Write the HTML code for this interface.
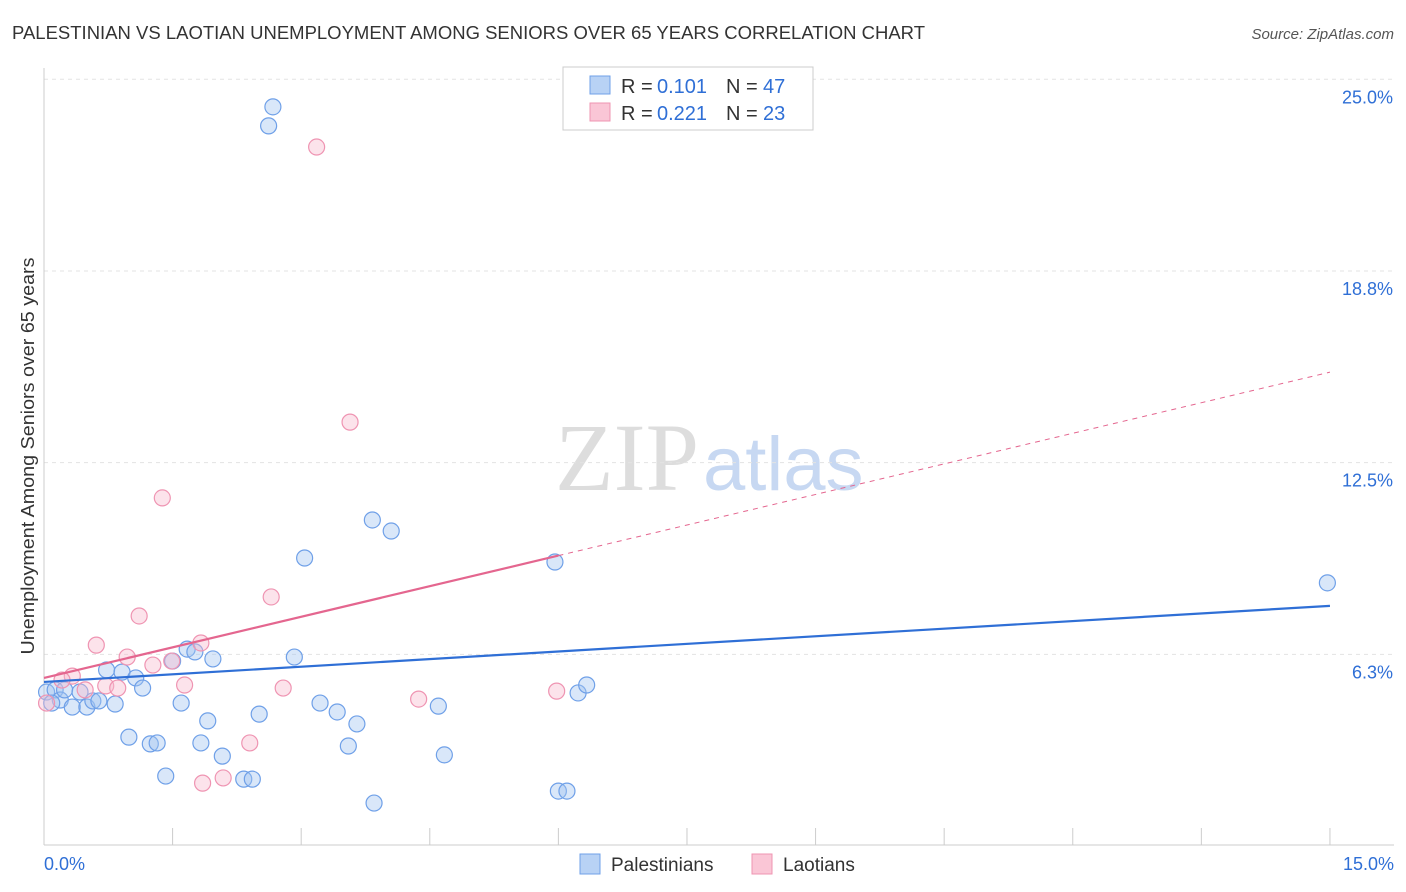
<!DOCTYPE html>
<html><head><meta charset="utf-8"><style>
body{margin:0;background:#fff;font-family:"Liberation Sans",sans-serif;}
svg{display:block}
</style></head><body>
<svg width="1406" height="892" xmlns="http://www.w3.org/2000/svg" id="chart">
<text x="12" y="39" font-size="18.5" fill="#333" textLength="913" lengthAdjust="spacingAndGlyphs">PALESTINIAN VS LAOTIAN UNEMPLOYMENT AMONG SENIORS OVER 65 YEARS CORRELATION CHART</text>
<text x="1394" y="39" font-size="15" fill="#555" text-anchor="end" font-style="italic">Source: ZipAtlas.com</text>
<text x="555" y="490" font-size="96" fill="#ddd" font-family="Liberation Serif,serif">ZIP<tspan fill="#c7d8f2" font-family="Liberation Sans,sans-serif" font-size="76" dx="4">atlas</tspan></text>
<text transform="translate(34,456) rotate(-90)" font-size="18" fill="#333" text-anchor="middle" textLength="397" lengthAdjust="spacingAndGlyphs">Unemployment Among Seniors over 65 years</text>
<g id="grid"></g>
<g id="marks"></g>
<g>
<rect x="563" y="67" width="250" height="63" fill="#fff" stroke="#ccc"/>
<rect x="590" y="76" width="20" height="18" fill="#b8d2f5" stroke="#6fa0e8"/>
<rect x="590" y="103" width="20" height="18" fill="#fac6d6" stroke="#ef94b2"/>
<text x="621" y="93" font-size="20" fill="#333">R =</text>
<text x="657" y="93" font-size="20" fill="#2f6fd6">0.101</text>
<text x="726" y="93" font-size="20" fill="#333">N =</text>
<text x="763" y="93" font-size="20" fill="#2f6fd6">47</text>
<text x="621" y="120" font-size="20" fill="#333">R =</text>
<text x="657" y="120" font-size="20" fill="#2f6fd6">0.221</text>
<text x="726" y="120" font-size="20" fill="#333">N =</text>
<text x="763" y="120" font-size="20" fill="#2f6fd6">23</text>
</g>
<g>
<rect x="580" y="854" width="20" height="20" fill="#b8d2f5" stroke="#6fa0e8"/>
<text x="611" y="871" font-size="19" fill="#333">Palestinians</text>
<rect x="752" y="854" width="20" height="20" fill="#fac6d6" stroke="#ef94b2"/>
<text x="783" y="871" font-size="19" fill="#333">Laotians</text>
</g>
</svg>
<script>
const yTicks=[25,18.8,12.5,6.3];
const yTickVals=[25,18.75,12.5,6.25];
const blueX=[2.67,2.62,3.04,3.83,4.05,5.96,14.97,0.03,0.13,0.19,0.09,0.24,0.33,0.42,0.50,0.57,0.64,0.73,0.83,0.91,1.07,1.15,0.99,1.24,1.32,1.42,1.50,1.60,1.67,1.76,1.83,1.91,1.97,2.08,2.33,2.43,2.51,2.92,3.22,3.42,3.55,3.65,3.85,4.60,4.67,6.00,6.10,6.23,6.33];
const blueY=[24.10,23.48,9.39,10.63,10.27,9.26,8.58,5.02,5.09,4.76,4.66,5.09,4.53,5.02,4.53,4.73,4.73,5.74,4.63,5.67,5.48,5.15,3.55,3.33,3.36,2.28,6.03,4.66,6.42,6.33,3.36,4.08,6.10,2.93,2.18,2.18,4.30,6.16,4.66,4.37,3.26,3.98,1.40,4.56,2.97,1.79,1.79,4.99,5.25];
const pinkX=[3.18,3.57,1.38,2.65,1.11,0.61,0.97,1.27,1.49,1.83,0.72,0.86,0.33,0.21,0.03,1.64,2.79,4.37,5.98,2.40,1.85,2.09,0.48];
const pinkY=[22.79,13.82,11.35,8.12,7.50,6.55,6.16,5.90,6.03,6.62,5.22,5.15,5.54,5.41,4.66,5.25,5.15,4.79,5.05,3.36,2.05,2.22,5.09];
const blueLine=[5.35,7.83];
const pinkLine=[5.48,15.45];
const pinkSolidEnd=6;
const NS="http://www.w3.org/2000/svg";
const X=v=>44+v*85.73, Y=v=>846-v*30.67;
function mk(t,a,p){const e=document.createElementNS(NS,t);for(const k in a)e.setAttribute(k,a[k]);p.appendChild(e);return e;}
const g=document.getElementById('grid'), m=document.getElementById('marks');
yTickVals.forEach((v,i)=>{
 const l=mk('line',{x1:44,x2:1394,y1:Y(v),y2:Y(v),stroke:'#e3e3e3','stroke-dasharray':'4,4'},g);
 
 
 const t=mk('text',{x:1393,y:Y(v)+24,'font-size':18,fill:'#2f6fd6','text-anchor':'end'},g);
 t.textContent=yTicks[i].toFixed(1)+'%';
 
 
});
mk('line',{x1:44,x2:44,y1:68,y2:845,stroke:'#ccc'},g);
mk('line',{x1:44,x2:1394,y1:845,y2:845,stroke:'#ccc'},g);
for(let i=1;i<=10;i++){mk('line',{x1:X(i*1.5),x2:X(i*1.5),y1:828,y2:845,stroke:'#ccc'},g);}
const xl=mk('text',{x:44,y:870,'font-size':18,fill:'#2f6fd6'},g);xl.textContent='0.0%';


const xr=mk('text',{x:1394,y:870,'font-size':18,fill:'#2f6fd6','text-anchor':'end'},g);xr.textContent='15.0%';


blueX.forEach((x,i)=>{const c=mk('circle',{cx:X(x),cy:Y(blueY[i]),r:8,fill:'rgba(160,195,240,0.4)',stroke:'#6fa0e8','stroke-width':1.2},m);
 
 });
pinkX.forEach((x,i)=>{const c=mk('circle',{cx:X(x),cy:Y(pinkY[i]),r:8,fill:'rgba(248,185,205,0.4)',stroke:'#ef94b2','stroke-width':1.2},m);
 
 });
const pm=v=>pinkLine[0]+(pinkLine[1]-pinkLine[0])*v/15;
const bl=mk('line',{x1:X(0),y1:Y(blueLine[0]),x2:X(15),y2:Y(blueLine[1]),stroke:'#2f6fd6','stroke-width':2.2},m);


const pl=mk('line',{x1:X(0),y1:Y(pinkLine[0]),x2:X(pinkSolidEnd),y2:Y(pm(pinkSolidEnd)),stroke:'#e4668f','stroke-width':2.2},m);


const pd=mk('line',{x1:X(pinkSolidEnd),y1:Y(pm(pinkSolidEnd)),x2:X(15),y2:Y(pinkLine[1]),stroke:'#e4668f','stroke-width':1,'stroke-dasharray':'5,5'},m);


</script>
</body></html>
